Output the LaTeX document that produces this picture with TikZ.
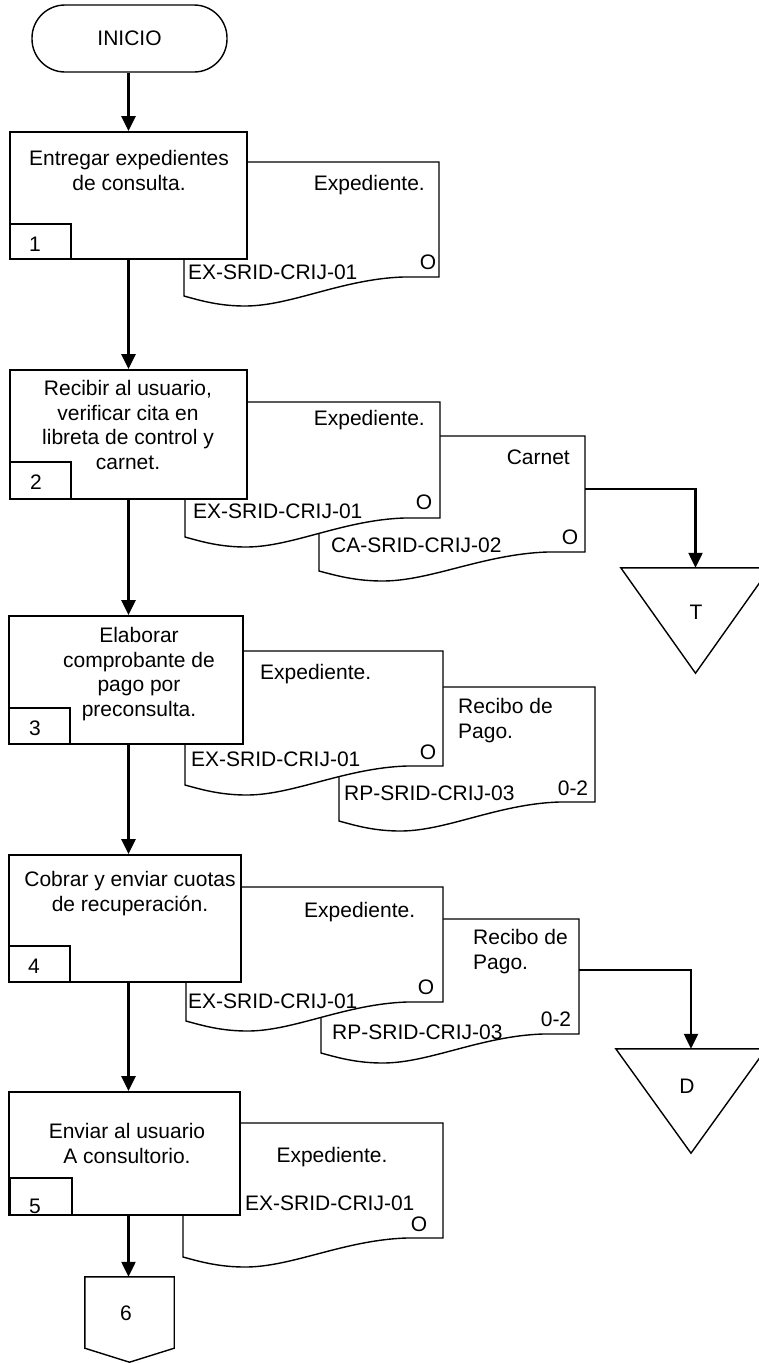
\documentclass[tikz,border=0pt]{standalone}
\usepackage{fontspec}
\setmainfont{Liberation Sans}
\usetikzlibrary{arrows.meta}

\newcommand\fs{\fontsize{21}{24.7}\selectfont}

% document symbol: name, left, top, right, bottom of the right edge
\newcommand\docnode[5]{%
  \node[docframe, minimum width={(#4-#2)*1pt}, minimum height={(#5-#3)*1pt}]
    (#1) at ({(#2+#4)/2},{(#3+#5)/2}) {};
  \path[docline] (#2,#3) -- (#4,#3) -- (#4,#5) -- ({#4-0.14*(#4-#2)},#5)
    .. controls ({#2+0.62*(#4-#2)},{#5+2}) and ({#2+0.42*(#4-#2)},{#5+29}) .. ({#2+0.24*(#4-#2)},{#5+29})
    .. controls ({#2+0.14*(#4-#2)},{#5+29}) and ({#2+0.07*(#4-#2)},{#5+24}) .. (#2,{#5+19}) -- cycle;
}

\begin{document}
\begin{tikzpicture}[x=1pt,y=-1pt,
  proc/.style={draw, fill=white, line width=1.8pt, inner sep=0},
  numbox/.style={draw, fill=white, line width=1.6pt, inner sep=0},
  docframe/.style={inner sep=0, draw=none},
  docline/.style={draw, fill=white, line width=1.4pt},
  shapeline/.style={draw, fill=white, line width=1.4pt},
  term/.style={draw, line width=1.4pt, rounded corners=33pt, inner sep=0,
    minimum width=195pt, minimum height=67pt, font=\fs},
  lbl/.style={inner sep=0, font=\fs},
  flow/.style={line width=2.3pt, -{Triangle[length=15pt,width=14pt]}},
]
\fill[white] (0,0) rectangle (759,1363);
\clip (0,0) rectangle (759,1363);

% ---- start ----
\node[term] (start) at (129.5,38.5) {INICIO};

% ---- step 1 ----
\docnode{e1}{184}{162}{439}{277}
\node[lbl, anchor=base east] (e1t) at (425,190.5) {Expediente.};
\node[lbl, anchor=base] (e1o) at (428,269.5) {O};
\node[lbl, anchor=base west] (e1c) at (188,279.5) {EX-SRID-CRIJ-01};
\node[proc, minimum width=237pt, minimum height=127pt] (b1) at (128.5,195.5) {};
\node[lbl, anchor=north, align=center] (b1t) at (129,150) {Entregar expedientes\\de consulta.};
\node[numbox, minimum width=61pt, minimum height=35pt] (n1) at (40.5,241.5) {};
\node[lbl, anchor=base] (n1t) at (35,251.5) {1};

% ---- step 2 ----
\docnode{c2}{319}{436}{585}{552}
\node[lbl, anchor=base east] (c2t) at (570,464.5) {Carnet};
\node[lbl, anchor=base] (c2o) at (570,544.5) {O};
\node[lbl, anchor=base west] (c2c) at (331,552.5) {CA-SRID-CRIJ-02};
\docnode{e2}{185}{402}{440}{518}
\node[lbl, anchor=base east] (e2t) at (425,425.5) {Expediente.};
\node[lbl, anchor=base] (e2o) at (424,509.5) {O};
\node[lbl, anchor=base west] (e2c) at (193,518.5) {EX-SRID-CRIJ-01};
\node[proc, minimum width=237pt, minimum height=129pt] (b2) at (128.5,434.5) {};
\node[lbl, anchor=north, align=center] (b2t) at (128,380)
  {Recibir al usuario,\\verificar cita en\\libreta de control y\\carnet.};
\node[numbox, minimum width=61pt, minimum height=37pt] (n2) at (40.5,480.5) {};
\node[lbl, anchor=base] (n2t) at (36,489.5) {2};

% ---- step 3 ----
\docnode{r3}{339}{687}{595}{802}
\node[lbl, anchor=north west, align=left] (r3t) at (458,698) {Recibo de\\Pago.};
\node[lbl, anchor=base] (r3o) at (573,795.5) {0-2};
\node[lbl, anchor=base west] (r3c) at (344,800.5) {RP-SRID-CRIJ-03};
\docnode{e3}{185}{651}{443}{766}
\node[lbl, anchor=base west] (e3t) at (260,679.5) {Expediente.};
\node[lbl, anchor=base] (e3o) at (428,759.5) {O};
\node[lbl, anchor=base west] (e3c) at (191,766.5) {EX-SRID-CRIJ-01};
\node[proc, minimum width=234pt, minimum height=128pt] (b3) at (126,680) {};
\node[lbl, anchor=north, align=center] (b3t) at (139,627)
  {Elaborar\\comprobante de\\pago por\\preconsulta.};
\node[numbox, minimum width=61pt, minimum height=36pt] (n3) at (39.5,726) {};
\node[lbl, anchor=base] (n3t) at (35,735.5) {3};

% ---- step 4 ----
\docnode{r4}{321}{919}{579}{1034}
\node[lbl, anchor=north west, align=left] (r4t) at (473,929) {Recibo de\\Pago.};
\node[lbl, anchor=base] (r4o) at (556,1026.5) {0-2};
\node[lbl, anchor=base west] (r4c) at (332,1039.5) {RP-SRID-CRIJ-03};
\docnode{e4}{186}{887}{443}{1002}
\node[lbl, anchor=base west] (e4t) at (304,917.5) {Expediente.};
\node[lbl, anchor=base] (e4o) at (426,994.5) {O};
\node[lbl, anchor=base west] (e4c) at (188,1008.5) {EX-SRID-CRIJ-01};
\node[proc, minimum width=232pt, minimum height=127pt] (b4) at (125,918.5) {};
\node[lbl, anchor=north, align=center] (b4t) at (130,871)
  {Cobrar y enviar cuotas\\de recuperación.};
\node[numbox, minimum width=61pt, minimum height=36pt] (n4) at (39.5,964) {};
\node[lbl, anchor=base] (n4t) at (34,973.5) {4};

% ---- step 5 ----
\docnode{e5}{183}{1123}{443}{1238}
\node[lbl, anchor=base] (e5t) at (332,1162.5) {Expediente.};
\node[lbl, anchor=base west] (e5c) at (245,1210.5) {EX-SRID-CRIJ-01};
\node[lbl, anchor=base] (e5o) at (419,1231.5) {O};
\node[proc, minimum width=231pt, minimum height=123pt] (b5) at (124.5,1153.5) {};
\node[lbl, anchor=north, align=center] (b5t) at (127,1123)
  {Enviar al usuario\\A consultorio.};
\node[numbox, minimum width=62pt, minimum height=37pt] (n5) at (41,1196.5) {};
\node[lbl, anchor=base] (n5t) at (35,1213.5) {5};

% ---- archive triangles ----
\node[docframe, minimum width=149pt, minimum height=105pt] (T) at (695.5,620.5) {};
\path[shapeline] (T.north west) -- (T.north east) -- (T.south) -- cycle;
\node[lbl] (Tt) at (696,612) {T};
\node[docframe, minimum width=150pt, minimum height=104pt] (D) at (691,1101) {};
\path[shapeline] (D.north west) -- (D.north east) -- (D.south) -- cycle;
\node[lbl] (Dt) at (687,1086) {D};

% ---- off-page connector ----
\node[docframe, minimum width=89pt, minimum height=85pt] (p6) at (129.5,1319.5) {};
\path[shapeline] (p6.north west) -- (p6.north east) -- ([yshift=14pt]p6.south east)
  -- (p6.south) -- ([yshift=14pt]p6.south west) -- cycle;
\node[lbl] (p6t) at (126,1313) {6};

% ---- flow lines ----
\draw[flow] (start.south -| b1.north) -- (b1.north);
\draw[flow] (b1.south) -- (b2.north);
\draw[flow] (b2.south) -- (b3.north -| b2.north);
\draw[flow] (b3.south -| b2.north) -- (b4.north -| b2.north);
\draw[flow] (b4.south -| b2.north) -- (b5.north -| b2.north);
\draw[flow] (b5.south -| b2.north) -- (p6.north -| b2.north);
\draw[flow] ([yshift=5pt]c2.east) -| (T.north);
\draw[flow] ([yshift=6.5pt]r4.east) -| (D.north);
\end{tikzpicture}
\end{document}
